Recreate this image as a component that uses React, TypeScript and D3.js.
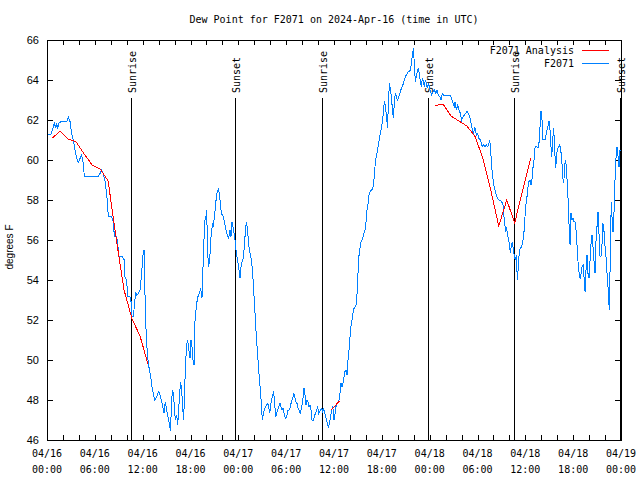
import React from "react";
import * as d3 from "d3";

// ---- data ----
const chartTitle = "Dew Point for F2071 on 2024-Apr-16 (time in UTC)";
const yLabel = "degrees F";
const seriesNames = ["F2071 Analysis", "F2071"];

// hours since 2024-04-16 00:00 UTC
const analysisHours = [
  0.667, 1.667, 2.667, 3.667, 4.667, 5.667, 6.667, 7.667, 8.667, 9.667, 10.667, 11.667, 12.667,
  NaN,
  35.667, 36.667,
  NaN,
  48.667, 49.667, 50.667, 51.667, 52.667, 53.667, 54.667, 55.667, 56.667, 57.667, 58.667, 59.667, 60.667,
];
const analysisDew = [
  61.1, 61.45, 61.05, 60.9, 60.3, 59.75, 59.55, 58.95, 56.1, 53.5, 52.05, 51.2, 49.8,
  NaN,
  47.5, 47.95,
  NaN,
  62.72, 62.8, 62.2, 61.95, 61.7, 61.2, 60.1, 58.5, 56.7, 58.0, 56.85, 58.5, 60.1,
];

const obsHours = [
  0.17, 0.5, 0.79, 0.92, 1.09, 1.21, 1.34, 1.51, 1.84, 2.47, 2.68, 2.89, 3.09, 3.3, 3.51, 3.72, 3.93, 4.14, 4.35, 4.56, 4.68,
  6.44, 6.65, 6.86, 7.07, 7.28, 7.48, 7.61, 7.69, 8.11, 8.32, 8.45, 8.74, 8.95, 9.03, 9.45, 9.7, 9.78, 9.99, 10.12, 10.41,
  10.54, 10.62, 10.83, 10.95, 11.12, 11.25, 11.46, 11.67, 11.88, 12.0, 12.17, 12.25, 12.33, 12.5, 12.67, 12.84, 13.0, 13.17,
  13.34, 13.51, 13.67, 13.84, 14.01, 14.17, 14.34, 14.51, 14.68, 14.84, 15.01, 15.22, 15.35, 15.47, 15.6, 15.72, 15.85, 15.97,
  16.1, 16.27, 16.39, 16.52, 16.64, 16.77, 16.89, 17.02, 17.1, 17.23, 17.35, 17.48, 17.6, 17.73, 17.85, 17.94, 18.06, 18.19,
  18.31, 18.44, 18.57, 18.77, 18.94, 19.11, 19.28, 19.44, 19.61, 19.78, 19.94, 20.03, 20.15, 20.28, 20.41, 20.53, 20.66, 20.78,
  20.86, 20.99, 21.12, 21.24, 21.37, 21.49, 21.62, 21.74, 21.87, 21.99, 22.12, 22.24, 22.37, 22.5, 22.62, 22.79, 22.96, 23.08,
  23.21, 23.33, 23.46, 23.58, 23.71, 23.87, 24.04, 24.21, 24.34, 24.46, 24.63, 24.75, 24.88, 25.0, 25.13, 25.26, 25.38, 25.55,
  25.67, 25.8, 25.92, 26.05, 26.18, 26.3, 26.43, 26.55, 26.68, 26.8, 26.93, 27.01, 27.14, 27.26, 27.39, 27.56, 27.68, 27.81,
  27.93, 28.06, 28.18, 28.31, 28.43, 28.56, 28.68, 28.81, 28.94, 29.06, 29.23, 29.35, 29.48, 29.6, 29.73, 29.85, 29.98, 30.11,
  30.23, 30.36, 30.48, 30.61, 30.73, 30.86, 30.98, 31.11, 31.23, 31.36, 31.49, 31.61, 31.74, 31.86, 31.99, 32.11, 32.24, 32.36,
  32.49, 32.61, 32.74, 32.87, 32.99, 33.12, 33.24, 33.45, 33.58, 33.7, 33.83, 33.95, 34.08, 34.2, 34.33, 34.45, 34.58, 34.71,
  34.83, 34.96, 35.08, 35.21, 35.33, 35.46, 35.58, 35.71, 35.84, 35.96, 36.0, 36.13, 36.25, 36.42, 36.59, 36.75, 36.88, 37.0,
  37.13, 37.26, 37.38, 37.51, 37.63, 37.76, 37.88, 38.01, 38.13, 38.26, 38.38, 38.51, 38.64, 38.76, 38.89, 39.01, 39.14, 39.26,
  39.39, 39.51, 39.64, 39.76, 39.89, 40.02, 40.14, 40.27, 40.39, 40.52, 40.68, 40.85, 40.98, 41.1, 41.23, 41.35, 41.48, 41.6,
  41.73, 41.86, 41.98, 42.11, 42.23, 42.36, 42.48, 42.61, 42.69, 42.82, 42.94, 43.07, 43.19, 43.32, 43.44, 43.57, 43.69, 43.82,
  43.95, 44.07, 44.2, 44.32, 44.45, 44.57, 44.7, 44.82, 44.95, 45.08, 45.2, 45.33, 45.45, 45.58, 45.7, 45.83, 45.95, 46.08,
  46.2, 46.33, 46.46, 46.58, 46.71, 46.83, 46.96, 47.08, 47.21, 47.33, 47.46, 47.58, 47.71, 47.83, 47.96, 48.09, 48.25, 48.42,
  48.59, 48.76, 48.92, 49.09, 49.26, 49.42, 49.59, 49.76, 49.93, 50.09, 50.26, 50.43, 50.59, 50.76, 50.93, 51.1, 51.18, 51.35,
  51.51, 51.68, 51.85, 52.02, 52.19, 52.35, 52.52, 52.68, 52.85, 53.02, 53.19, 53.35, 53.52, 53.65, 53.77, 53.9, 54.02, 54.19,
  54.36, 54.48, 54.61, 54.78, 54.94, 55.11, 55.28, 55.4, 55.53, 55.65, 55.78, 55.91, 56.03, 56.2, 56.36, 56.53, 56.7, 56.87,
  57.03, 57.2, 57.28, 57.41, 57.49, 57.62, 57.74, 57.87, 57.99, 58.12, 58.25, 58.37, 58.5, 58.62, 58.75, 58.87, 59.0, 59.12,
  59.25, 59.38, 59.54, 59.71, 59.88, 59.96, 60.09, 60.21, 60.34, 60.46, 60.59, 60.71, 60.84, 60.92, 61.09, 61.21, 61.34, 61.63,
  61.76, 61.84, 61.97, 62.09, 62.22, 62.34, 62.47, 62.59, 62.72, 62.85, 62.97, 63.1, 63.22, 63.31, 63.43, 63.56, 63.68, 63.81,
  63.93, 64.06, 64.19, 64.31, 64.44, 64.56, 64.69, 64.82, 64.94, 65.07, 65.19, 65.32, 65.44, 65.53, 65.61, 65.73, 65.86, 65.98,
  66.11, 66.23, 66.36, 66.48, 66.61, 66.73, 66.86, 66.99, 67.11, 67.24, 67.36, 67.49, 67.61, 67.74, 67.86, 67.99, 68.11, 68.24,
  68.36, 68.49, 68.62, 68.74, 68.87, 68.99, 69.12, 69.24, 69.37, 69.49, 69.62, 69.74, 69.87, 70.0, 70.12, 70.25, 70.37, 70.46,
  70.54, 70.62, 70.71, 70.79, 70.87, 71.0, 71.12, 71.25, 71.38, 71.5, 71.63, 71.75, 71.88,
];
const obsDew = [
  61.28, 61.28, 61.63, 61.87, 61.58, 61.83, 61.58, 61.87, 61.92, 61.92, 62.13, 61.92, 61.33, 61.0, 60.5, 60.08, 59.88, 60.08, 60.25, 59.83, 59.17,
  59.17, 59.33, 59.5, 59.33, 58.92, 58.33, 57.67, 57.17, 57.17, 56.92, 56.17, 56.17, 55.5, 55.17, 55.17, 55.0, 54.17, 54.0, 53.17, 53.17,
  52.92, 52.17, 52.17, 52.67, 53.42, 53.25, 53.33, 53.5, 54.33, 55.17, 55.5, 54.33, 52.33, 50.83, 50.0, 49.5, 49.17, 48.67,
  48.33, 48.0, 48.08, 48.25, 48.42, 48.25, 48.0, 47.67, 47.33, 47.92, 47.5, 47.08, 46.83, 46.47, 47.5, 48.5, 48.33, 47.67,
  47.0, 47.25, 46.75, 47.5, 48.33, 48.92, 48.42, 47.83, 47.0, 47.83, 49.58, 50.5, 51.0, 50.75, 50.33, 50.08, 51.0, 50.67,
  50.0, 49.75, 52.0, 52.83, 53.17, 53.33, 53.58, 53.08, 55.17, 56.92, 57.17, 57.5, 55.33, 54.67, 55.0, 56.0, 56.5, 56.75,
  56.67, 57.17, 57.58, 58.17, 58.42, 58.53, 58.33, 57.83, 57.33, 57.25, 57.17, 56.92, 56.67, 56.42, 56.25, 56.08, 56.5, 56.17,
  56.92, 56.67, 56.33, 56.0, 55.5, 55.08, 54.67, 54.08, 54.67, 54.92, 55.08, 55.67, 56.42, 56.92, 56.58, 56.0, 55.5, 55.17,
  54.92, 54.33, 53.5, 52.67, 51.67, 50.92, 50.25, 49.5, 48.92, 48.33, 47.5, 47.0, 47.33, 47.5, 47.67, 47.75, 47.83, 47.67,
  47.33, 47.75, 48.0, 48.25, 48.42, 47.83, 47.17, 47.33, 47.5, 47.67, 47.83, 47.67, 47.5, 47.58, 47.33, 47.17, 47.08, 47.25,
  47.5, 47.5, 47.58, 47.83, 48.0, 48.17, 48.33, 48.08, 47.92, 47.83, 47.58, 47.5, 47.33, 47.5, 47.75, 48.08, 48.58, 48.25,
  47.75, 48.0, 47.92, 47.67, 47.75, 47.5, 47.0, 47.0, 47.25, 47.33, 47.5, 47.67, 47.33, 47.42, 47.5, 47.58, 47.42, 47.58,
  47.33, 47.17, 47.0, 46.75, 46.63, 46.92, 47.17, 47.5, 47.67, 47.33, 47.0, 47.33, 47.67, 47.83, 47.92, 48.33, 48.83, 48.67,
  48.83, 49.17, 49.42, 49.5, 49.25, 50.0, 50.5, 51.17, 51.67, 52.0, 52.33, 52.58, 52.67, 52.75, 53.33, 54.33, 55.25, 55.58,
  55.92, 56.0, 56.17, 56.33, 56.5, 56.92, 57.5, 57.83, 58.25, 58.42, 58.5, 58.53, 58.83, 59.5, 60.0, 60.25, 60.58, 60.83,
  61.17, 61.42, 61.67, 62.0, 62.67, 62.92, 62.5, 62.17, 61.58, 62.67, 63.83, 63.58, 63.17, 62.58, 62.08, 62.83, 63.33, 63.17,
  63.0, 63.08, 63.25, 63.42, 63.58, 63.67, 63.83, 64.0, 64.17, 64.25, 64.33, 64.42, 64.42, 64.5, 64.83, 65.25, 65.58, 64.83,
  63.92, 64.17, 64.42, 64.58, 64.33, 63.92, 63.67, 64.08, 63.92, 63.67, 64.0, 63.83, 63.58, 63.83, 63.67, 63.42, 63.25, 63.42,
  63.5, 63.33, 63.5, 63.25, 63.17, 63.0, 63.33, 63.25, 63.25, 63.25, 63.2, 63.25, 63.25, 63.08, 62.83, 62.67, 62.92, 62.5,
  62.75, 62.5, 62.33, 62.0, 62.17, 62.25, 62.33, 62.42, 62.33, 62.17, 61.83, 61.5, 61.33, 61.67, 61.42, 61.25, 61.33, 61.08,
  61.0, 60.83, 60.67, 60.75, 60.67, 60.75, 60.67, 60.75, 61.0, 60.5, 59.67, 59.17, 58.75, 58.5, 58.25, 58.08, 58.0, 58.0,
  57.92, 57.75, 57.25, 57.0, 56.42, 56.67, 56.33, 56.08, 55.83, 55.33, 55.75, 55.92, 55.5, 55.17, 55.0, 55.25, 54.0, 54.67,
  55.5, 55.58, 55.67, 56.0, 56.58, 57.17, 57.83, 58.17, 58.67, 58.92, 59.0, 58.75, 59.08, 59.5, 60.0, 60.58, 60.67, 60.63,
  61.0, 61.67, 62.47, 62.0, 61.0, 61.03, 61.03, 61.25, 61.5, 61.7, 61.97, 61.5, 60.67, 60.17, 61.0, 61.58, 60.5, 59.58,
  60.33, 60.58, 60.67, 60.75, 60.5, 60.08, 59.17, 58.83, 59.75, 60.0, 59.33, 58.42, 57.33, 56.17, 55.75, 57.33, 57.0, 57.08,
  56.92, 56.92, 56.5, 55.75, 54.92, 54.42, 54.08, 54.33, 54.67, 54.75, 54.17, 53.42, 54.5, 55.25, 54.33, 54.08, 54.92, 55.83,
  56.25, 55.67, 54.92, 54.33, 56.0, 56.67, 57.42, 56.33, 55.17, 55.17, 55.83, 56.83, 56.42, 55.67, 55.17, 54.33, 53.67, 53.0,
  52.5, 54.33, 56.67, 57.92, 57.17, 56.42, 57.33, 59.0, 60.17, 60.63, 60.17, 59.67, 60.5,
];

const sunEventHours = [10.53, 23.62, 34.53, 47.75, 58.6, 71.88];
const sunEventLabels = ["Sunrise", "Sunset", "Sunrise", "Sunset", "Sunrise", "Sunset"];

const yTickValues = [46, 48, 50, 52, 54, 56, 58, 60, 62, 64, 66];
const xLabelHours = [0, 6, 12, 18, 24, 30, 36, 42, 48, 54, 60, 66, 72];
const xDateLabels = ["04/16", "04/16", "04/16", "04/16", "04/17", "04/17", "04/17", "04/17", "04/18", "04/18", "04/18", "04/18", "04/19"];
const xTimeLabels = ["00:00", "06:00", "12:00", "18:00", "00:00", "06:00", "12:00", "18:00", "00:00", "06:00", "12:00", "18:00", "00:00"];

// ---- chart ----
const W = 640;
const H = 480;
const M = { left: 47, right: 621, top: 40, bottom: 440 };
const MONO = "'DejaVu Sans Mono', monospace";
const SANS = "'Liberation Sans', Arial, sans-serif";
const RED = "#ff0000";
const BLUE = "#0080ff";

export default function App() {
  const x = d3.scaleLinear().domain([0, 72]).range([M.left, M.right]);
  const y = d3.scaleLinear().domain([46, 66]).range([M.bottom, M.top]);

  const obs = obsHours.map((h, i) => [h, obsDew[i]] as [number, number]);
  const ana = analysisHours.map((h, i) => [h, analysisDew[i]] as [number, number]);

  const line = d3
    .line<[number, number]>()
    .defined((d) => !isNaN(d[0]) && !isNaN(d[1]))
    .x((d) => x(d[0]))
    .y((d) => y(d[1]));

  const minorX = d3.range(0, 73, 2);

  return (
    <svg
      width={W}
      height={H}
      style={{ position: "absolute", left: 0, top: 0, background: "#fff" }}
    >
      <rect x={0} y={0} width={W} height={H} fill="#fff" />
      <text x={(M.left + M.right) / 2} y={23} textAnchor="middle" fontFamily={MONO} fontSize={10} fill="#000">
        {chartTitle}
      </text>

      {/* y ticks */}
      {yTickValues.map((v) => (
        <g key={"y" + v}>
          <line x1={M.left} x2={M.left + 6} y1={Math.round(y(v)) + 0.5} y2={Math.round(y(v)) + 0.5} stroke="#000" />
          <line x1={M.right - 6} x2={M.right} y1={Math.round(y(v)) + 0.5} y2={Math.round(y(v)) + 0.5} stroke="#000" />
          <text x={39} y={y(v) + 4} textAnchor="end" fontFamily={SANS} fontSize={11} fill="#000">
            {v}
          </text>
        </g>
      ))}

      {/* x ticks */}
      {minorX.map((h) => (
        <g key={"x" + h}>
          <line x1={Math.round(x(h)) + 0.5} x2={Math.round(x(h)) + 0.5} y1={M.bottom} y2={M.bottom - 5} stroke="#000" />
          <line x1={Math.round(x(h)) + 0.5} x2={Math.round(x(h)) + 0.5} y1={M.top} y2={M.top + 5} stroke="#000" />
        </g>
      ))}
      {xLabelHours.map((h, i) => (
        <g key={"xl" + h}>
          <text x={x(h)} y={457} textAnchor="middle" fontFamily={MONO} fontSize={10} fill="#000">
            {xDateLabels[i]}
          </text>
          <text x={x(h)} y={473} textAnchor="middle" fontFamily={MONO} fontSize={10} fill="#000">
            {xTimeLabels[i]}
          </text>
        </g>
      ))}

      <text
        transform={`translate(13,${(M.top + M.bottom) / 2 + 7}) rotate(-90)`}
        textAnchor="middle"
        fontFamily={SANS}
        fontSize={10}
        fill="#000"
      >
        {yLabel}
      </text>

      {/* sunrise / sunset */}
      {sunEventHours.map((h, i) => {
        const px = Math.round(x(h)) + 0.5;
        return (
          <g key={"s" + i}>
            <line x1={px} x2={px} y1={98} y2={M.bottom} stroke="#000" />
            <text
              transform={`translate(${px + 4},93) rotate(-90)`}
              textAnchor="start"
              fontFamily={MONO}
              fontSize={10}
              fill="#000"
            >
              {sunEventLabels[i]}
            </text>
          </g>
        );
      })}

      {/* series */}
      <path d={line(obs) || ""} fill="none" stroke={BLUE} strokeWidth={1} shapeRendering="crispEdges" />
      <path d={line(ana) || ""} fill="none" stroke={RED} strokeWidth={1} shapeRendering="crispEdges" />

      {/* legend */}
      <text x={574} y={54} textAnchor="end" fontFamily={MONO} fontSize={10} fill="#000">
        {seriesNames[0]}
      </text>
      <line x1={582} x2={609} y1={50.5} y2={50.5} stroke={RED} />
      <text x={574} y={67} textAnchor="end" fontFamily={MONO} fontSize={10} fill="#000">
        {seriesNames[1]}
      </text>
      <line x1={582} x2={609} y1={63.5} y2={63.5} stroke={BLUE} />

      {/* border */}
      <rect x={M.left + 0.5} y={M.top + 0.5} width={M.right - M.left} height={M.bottom - M.top} fill="none" stroke="#000" />
    </svg>
  );
}
